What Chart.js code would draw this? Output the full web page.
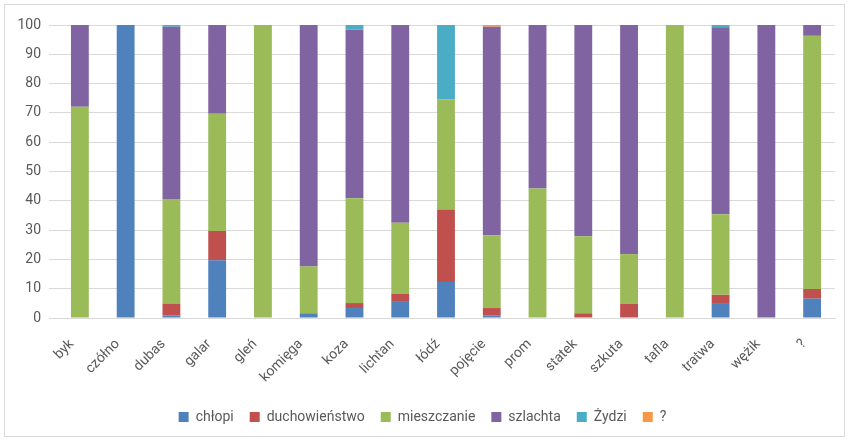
<!DOCTYPE html>
<html>
<head>
<meta charset="utf-8">
<script src="https://cdn.jsdelivr.net/npm/chart.js@4"></script>
<style>
  html, body { margin: 0; padding: 0; background: #fff; }
  #wrap { position: relative; width: 848px; height: 442px; }
  #frame { position: absolute; left: 4px; top: 4px; width: 841px; height: 433px; border: 1px solid #d9d9d9; box-sizing: border-box; pointer-events: none; }
</style>
</head>
<body>
<div id="wrap">
  <canvas id="chart" width="848" height="442"></canvas>
  <div id="frame"></div>
</div>
<script>
// categories (types of boats) and shares per social group, in %
const labels = ['byk', 'czółno', 'dubas', 'galar', 'gleń', 'komięga', 'koza', 'lichtan', 'łódź', 'pojęcie', 'prom', 'statek', 'szkuta', 'tafla', 'tratwa', 'wężik', '?'];

const chlopi        = [0, 100, 0.9, 19.7, 0, 1.6, 3.4, 5.5, 12.3, 0.8, 0, 0, 0, 0, 5.1, 0, 6.6];
const duchowienstwo = [0, 0, 3.9, 10, 0, 0, 1.7, 2.7, 24.7, 2.6, 0, 1.6, 4.8, 0, 2.8, 0, 3.3];
const mieszczanie   = [72.1, 0, 35.8, 40, 100, 16, 35.8, 24.3, 37.7, 24.8, 44.2, 26.3, 17, 100, 27.5, 0, 86.4];
const szlachta      = [27.9, 0, 58.8, 30.3, 0, 82.4, 57.5, 67.5, 0, 71.2, 55.8, 72.1, 78.2, 0, 63.8, 100, 3.7];
const zydzi         = [0, 0, 0.6, 0, 0, 0, 1.6, 0, 25.3, 0, 0, 0, 0, 0, 0.8, 0, 0];
const nieznane      = [0, 0, 0, 0, 0, 0, 0, 0, 0, 0.6, 0, 0, 0, 0, 0, 0, 0];

const yTicks = [0, 10, 20, 30, 40, 50, 60, 70, 80, 90, 100];

const txt = '#595959';
const font = { family: 'Roboto, "Liberation Sans", sans-serif', size: 14 };

function ds(label, data, color) {
  return { label: label, data: data, backgroundColor: color, borderWidth: 0,
           barPercentage: 0.39, categoryPercentage: 1 };
}

const ctx = document.getElementById('chart').getContext('2d');
new Chart(ctx, {
  type: 'bar',
  data: {
    labels: labels,
    datasets: [
      ds('chłopi', chlopi, '#4F81BD'),
      ds('duchowieństwo', duchowienstwo, '#C0504D'),
      ds('mieszczanie', mieszczanie, '#9BBB59'),
      ds('szlachta', szlachta, '#8064A2'),
      ds('Żydzi', zydzi, '#4BACC6'),
      ds('?', nieznane, '#F79646')
    ]
  },
  options: {
    responsive: false,
    animation: false,
    layout: { padding: { left: 10, right: 13, top: 25, bottom: 8 } },
    scales: {
      x: {
        stacked: true,
        grid: { display: false },
        border: { color: '#d9d9d9' },
        ticks: { color: txt, font: font, minRotation: 45, maxRotation: 45, padding: 10, labelOffset: -8 },
        afterFit: (s) => { s.height = 76; }
      },
      y: {
        stacked: true,
        min: 0, max: 100,
        afterBuildTicks: (s) => { s.ticks = yTicks.map(v => ({ value: v })); },
        grid: { color: '#d9d9d9', lineWidth: 1 },
        border: { display: false },
        ticks: { color: txt, font: font, padding: 8 },
        afterFit: (s) => { s.width = 47; }
      }
    },
    plugins: {
      legend: {
        position: 'bottom',
        labels: { color: txt, font: font, boxWidth: 10, boxHeight: 10, padding: 16 }
      },
      tooltip: { enabled: false }
    }
  }
});
</script>
</body>
</html>
